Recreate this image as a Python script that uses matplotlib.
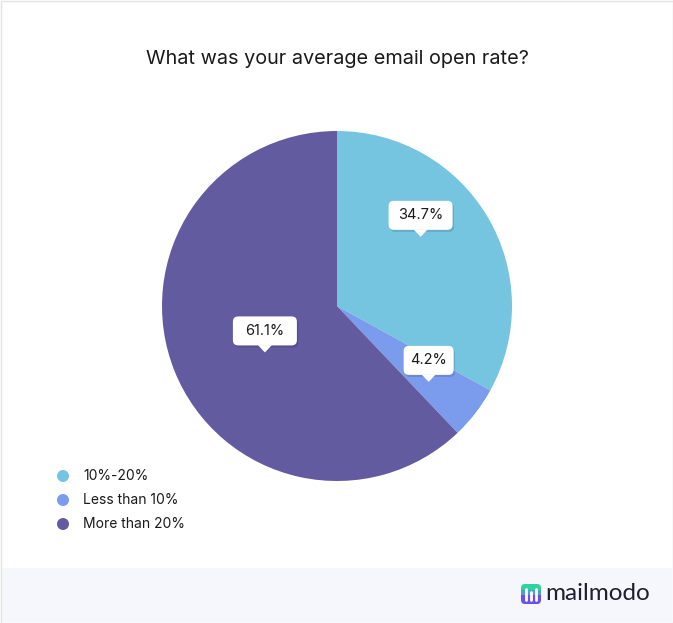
import numpy as np
import matplotlib.pyplot as plt
from matplotlib.patches import FancyBboxPatch, Polygon, Rectangle, Circle

plt.rcParams['font.family'] = ['Inter', 'DejaVu Sans']

# data (slice sizes as drawn in the picture, label texts as printed)
labels = ['10%-20%', 'Less than 10%', 'More than 20%']
slice_sizes = [33.0, 4.9, 62.1]
label_texts = ['34.7%', '4.2%', '61.1%']
colors = ['#75C5E0', '#7B9BEC', '#635B9F']
title = 'What was your average email open rate?'

# label placement tweaks (radius fraction, angle shift in degrees)
label_r = [0.62, 0.68, 0.49]
label_shift = [9, -2, 11]

W, H = 673, 623
fig = plt.figure(figsize=(W / 100, H / 100), dpi=100)
fig.patch.set_facecolor('white')

# border + footer
bg = fig.add_axes([0, 0, 1, 1])
bg.set_xlim(0, W)
bg.set_ylim(H, 0)
bg.axis('off')
bg.add_patch(Rectangle((1, 568), W - 2, 54, facecolor='#F5F7FC', edgecolor='none'))
bg.add_patch(Rectangle((0.5, 0.5), W - 1, H - 1, facecolor='none', edgecolor='#E3E3E3', lw=1))

# logo
bg.add_patch(FancyBboxPatch((521, 584), 20, 10, boxstyle='round,pad=0,rounding_size=4',
                            facecolor='#2DD4A0', edgecolor='none'))
bg.add_patch(FancyBboxPatch((521, 590), 20, 14, boxstyle='round,pad=0,rounding_size=4',
                            facecolor='#6A4FEA', edgecolor='none'))
bg.add_patch(Rectangle((521, 590), 20, 5, facecolor='#4FA0C8', edgecolor='none'))
for x0, y0 in [(526, 589), (531, 592), (536, 589)]:
    bg.plot([x0, x0], [y0, 600], color='white', lw=2, solid_capstyle='round')
bg.text(545, 594, 'mailmodo', fontsize=17.5, color='#1F1F2E', va='center', ha='left',
        family=['Lato', 'DejaVu Sans'])

# title
fig.text(337 / W, 1 - 59 / H, title, ha='center', va='center', fontsize=14.3, color='#1A1A1A')

# pie
R = 175
cx, cy = 337, 306
ax = fig.add_axes([(cx - R) / W, 1 - (cy + R) / H, 2 * R / W, 2 * R / H])
wedges, _ = ax.pie(slice_sizes, colors=colors, startangle=90, counterclock=False, radius=1,
                   wedgeprops=dict(edgecolor='none'))
ax.set_xlim(-1, 1)
ax.set_ylim(-1, 1)
ax.axis('off')

# callout labels
bh = 29 / R
th, tw = 7 / R, 14 / R
for w, txt, rf, sh in zip(wedges, label_texts, label_r, label_shift):
    ang = np.deg2rad((w.theta1 + w.theta2) / 2 + sh)
    tx, ty = rf * np.cos(ang), rf * np.sin(ang)
    by = ty + th
    bwi = (64 if len(txt) > 4 else 50) / R
    # shadow
    ax.add_patch(FancyBboxPatch((tx - bwi / 2 + 0.008, by - 0.012), bwi, bh,
                                boxstyle='round,pad=0,rounding_size=0.03',
                                facecolor='black', alpha=0.12, edgecolor='none', zorder=4))
    ax.add_patch(FancyBboxPatch((tx - bwi / 2, by), bwi, bh,
                                boxstyle='round,pad=0,rounding_size=0.03',
                                facecolor='white', edgecolor='none', zorder=5))
    ax.add_patch(Polygon([(tx - tw / 2, by + 0.002), (tx + tw / 2, by + 0.002), (tx, ty)],
                         closed=True, facecolor='white', edgecolor='none', zorder=5))
    ax.text(tx, by + bh / 2, txt, ha='center', va='center', fontsize=10.5, color='#1A1A1A', zorder=6)

# legend
for i, (lab, c) in enumerate(zip(labels, colors)):
    y = 476 + 24 * i
    bg.add_patch(Circle((63, y), 6, facecolor=c, edgecolor='none'))
    bg.text(83, y, lab, fontsize=10, va='center', ha='left', color='#1A1A1A')

fig.savefig('out.png', dpi=100)
